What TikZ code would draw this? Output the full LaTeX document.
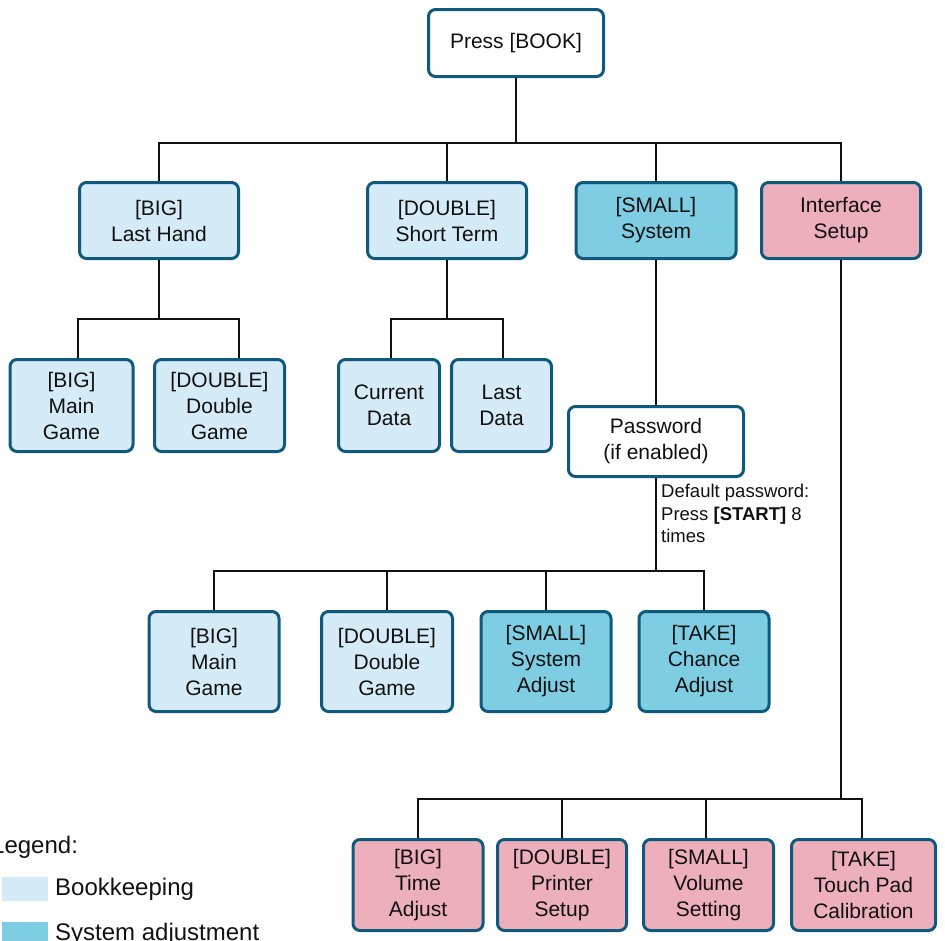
\documentclass[tikz,border=0pt]{standalone}
\usepackage{fontspec}
\setmainfont{Liberation Sans}
\usetikzlibrary{calc}
\definecolor{bord}{HTML}{0F5A7C}
\definecolor{lblue}{HTML}{D5EBF8}
\definecolor{mblue}{HTML}{7ECDE2}
\definecolor{pink}{HTML}{EDAFBC}
\definecolor{ink}{HTML}{111111}
\tikzset{
  box/.style={draw=bord, line width=3pt, rounded corners=7pt, inner sep=0pt,
    align=center, text=ink, font=\fontsize{21}{26}\selectfont},
  whitebox/.style={box, fill=white},
  bookbox/.style={box, fill=lblue},
  sysbox/.style={box, fill=mblue},
  ifbox/.style={box, fill=pink},
  conn/.style={draw=ink, line width=1.6pt},
  swatch/.style={fill=#1, draw=none, inner sep=0pt, minimum width=46pt, minimum height=24pt},
  legtext/.style={anchor=west, inner sep=0pt, text=ink, font=\fontsize{24}{28}\selectfont},
}
\begin{document}
\begin{tikzpicture}[x=1pt,y=-1pt]
\useasboundingbox (0,0) rectangle (945,940);
\clip (0,0) rectangle (945,940);
% root
\node[whitebox, minimum width=175pt, minimum height=67pt] (root) at (516,43) {Press [BOOK]};
% level 1
\node[bookbox, minimum width=159pt, minimum height=76pt] (lh) at (159,220.5) {[BIG]\\Last Hand};
\node[bookbox, minimum width=159pt, minimum height=76pt] (st) at (447,220.5) {[DOUBLE]\\Short Term};
\node[sysbox, minimum width=160pt, minimum height=76pt] (sy) at (656,220.5) {[SMALL]\\System};
\node[ifbox, minimum width=159pt, minimum height=76pt] (is) at (841,220.5) {Interface\\Setup};
% under last hand
\node[bookbox, minimum width=123pt, minimum height=92pt] (mg1) at (71.5,405.5) {[BIG]\\Main\\Game};
\node[bookbox, minimum width=130pt, minimum height=92pt] (dg1) at (219.5,405.5) {[DOUBLE]\\Double\\Game};
% under short term
\node[bookbox, minimum width=101pt, minimum height=92pt] (cd) at (389,405.5) {Current\\Data};
\node[bookbox, minimum width=100pt, minimum height=92pt] (ld) at (501.5,405.5) {Last\\Data};
% password
\node[whitebox, minimum width=175pt, minimum height=70pt] (pw) at (656,441.5) {Password\\(if enabled)};
\node[anchor=north west, inner sep=0pt, align=left, text=ink,
  font=\fontsize{18.5}{22.5}\selectfont] (note) at (661,484) {Default password:\\Press \textbf{[START]} 8\\times};
% system row
\node[bookbox, minimum width=130pt, minimum height=100pt] (mg2) at (214,661.5) {[BIG]\\Main\\Game};
\node[bookbox, minimum width=131pt, minimum height=100pt] (dg2) at (387,661.5) {[DOUBLE]\\Double\\Game};
\node[sysbox, minimum width=130pt, minimum height=100pt] (sa) at (546,661.5) {[SMALL]\\System\\Adjust};
\node[sysbox, minimum width=130pt, minimum height=100pt] (ca) at (704,661.5) {[TAKE]\\Chance\\Adjust};
% interface row
\node[ifbox, minimum width=130pt, minimum height=91pt] (ta) at (418,885) {[BIG]\\Time\\Adjust};
\node[ifbox, minimum width=129pt, minimum height=91pt] (ps) at (562,885) {[DOUBLE]\\Printer\\Setup};
\node[ifbox, minimum width=130pt, minimum height=91pt] (vs) at (708.5,885) {[SMALL]\\Volume\\Setting};
\node[ifbox, minimum width=144pt, minimum height=91pt] (tp) at (863.5,885) {[TAKE]\\Touch Pad\\Calibration};
% junctions
\coordinate (j0) at (516,143);
\coordinate (j1) at (159,319);
\coordinate (j2) at (447,319);
\coordinate (j3) at (656,571);
\coordinate (j4) at (841,799);
% connectors
\begin{scope}[conn]
\draw (root.south) -- (j0);
\draw (j0) -| (lh.north);
\draw (j0) -| (st.north);
\draw (j0) -| (sy.north);
\draw (j0) -| (is.north);
\draw (lh.south) -- (j1);
\draw (j1) -| ([xshift=6.5pt]mg1.north);
\draw (j1) -| ([xshift=19.5pt]dg1.north);
\draw (st.south) -- (j2);
\draw (j2) -| ([xshift=2pt]cd.north);
\draw (j2) -| ([xshift=1.5pt]ld.north);
\draw (sy.south) -- (pw.north);
\draw (pw.south) -- (j3);
\draw (j3) -| (mg2.north);
\draw (j3) -| (dg2.north);
\draw (j3) -| (sa.north);
\draw (j3) -| (ca.north);
\draw (is.south) -- (j4);
\draw (j4) -| (ta.north);
\draw (j4) -| (ps.north);
\draw (j4) -| ([xshift=-2.5pt]vs.north);
\draw (j4) -| ([xshift=-1.5pt]tp.north);
\end{scope}
% legend
\node[legtext] (legt) at (-9,847) {Legend:};
\node[swatch=lblue] (sw1) at (25,889) {};
\node[legtext] (lt1) at (55,889) {Bookkeeping};
\node[swatch=mblue] (sw2) at (25,934) {};
\node[legtext] (lt2) at (55,934) {System adjustment};
\end{tikzpicture}
\end{document}
